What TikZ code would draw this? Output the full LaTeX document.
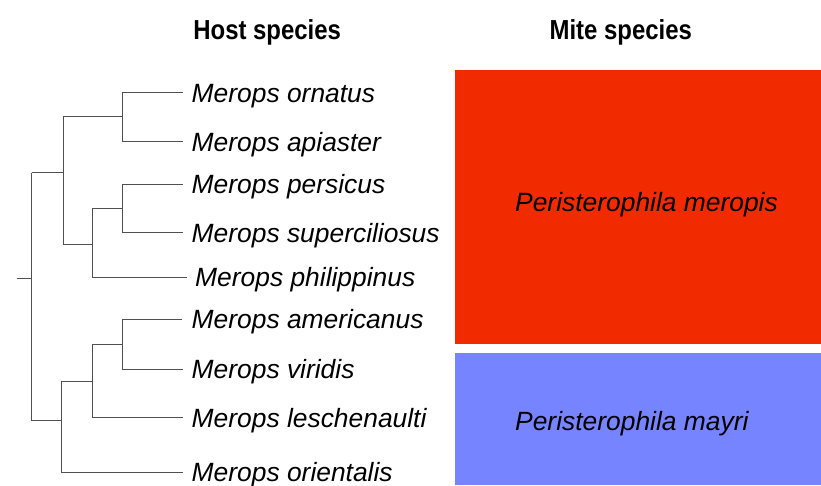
\documentclass[tikz,border=0pt]{standalone}
\usepackage{fontspec}
\setmainfont{Liberation Sans}
\newfontfamily\headfont[FakeStretch=0.87]{Liberation Sans}
\usepackage{xcolor}
\usetikzlibrary{positioning, calc}

\definecolor{miteRed}{RGB}{242,42,0}
\definecolor{miteBlue}{RGB}{118,132,255}
\definecolor{branchGray}{RGB}{80,80,80}

\begin{document}
\begin{tikzpicture}[
            x=1pt, y=-1pt,
            % ---- styles ----
            branch/.style = {draw=branchGray, line width=0.9pt},
            host/.style = {anchor=base west, inner sep=0pt, font=\fontsize{26.4}{30}\selectfont\itshape},
            head/.style = {anchor=base, inner sep=0pt, font=\headfont\fontsize{27.5}{32}\selectfont\bfseries},
            mitebox/.style = {rectangle, anchor=north west, inner sep=0pt, minimum width=366pt},
            mite/.style = {anchor=base west, inner sep=0pt, font=\fontsize{26.4}{30}\selectfont\itshape}
        ]

        \useasboundingbox (0,0) rectangle (821,485);

        % ===================== headers =====================
        \node[head] (hostT) at (267.2,39.3) {Host species};
        \node[head] (miteT) at (620.8,39.3) {Mite species};

        % ===================== mite boxes =====================
        \node[mitebox, fill=miteRed, minimum height=274.7pt] (meropis) at (455,69.3) {};
        \node[mite] (meropisL) at (515,211.7) {Peristerophila meropis};

        \node[mitebox, fill=miteBlue, minimum height=132.3pt] (mayri) at (455,352.7) {};
        \node[mite] (mayriL) at (515,430) {Peristerophila mayri};

        % ===================== tree: tips =====================
        \coordinate (orn) at (183,92.7);
        \coordinate (api) at (183,141.7);
        \coordinate (per) at (183,184);
        \coordinate (sup) at (183,232.7);
        \coordinate (phi) at (187,277);
        \coordinate (ame) at (182,319);
        \coordinate (vir) at (183,369);
        \coordinate (les) at (183,417.7);
        \coordinate (ori) at (183,472.3);

        \node[host] (ornL) at ($(orn)+(8.5,9.5)$) {Merops ornatus};
        \node[host] (apiL) at ($(api)+(8.5,9.5)$) {Merops apiaster};
        \node[host] (perL) at ($(per)+(8.5,9.5)$) {Merops persicus};
        \node[host] (supL) at ($(sup)+(8.5,9.5)$) {Merops superciliosus};
        \node[host] (phiL) at ($(phi)+(8,9.5)$) {Merops philippinus};
        \node[host] (ameL) at ($(ame)+(9.5,9.5)$) {Merops americanus};
        \node[host] (virL) at ($(vir)+(8.5,9.5)$) {Merops viridis};
        \node[host] (lesL) at ($(les)+(8.5,9.5)$) {Merops leschenaulti};
        \node[host] (oriL) at ($(ori)+(8.5,9.5)$) {Merops orientalis};

        % ===================== tree: inner nodes =====================
        \coordinate (c1) at (122.7,116.7);   % ornatus + apiaster
        \coordinate (c2) at (122.7,208.3);   % persicus + superciliosus
        \coordinate (c3) at (92.3,244);      % c2 + philippinus
        \coordinate (c4) at (63.3,172.7);    % c1 + c3
        \coordinate (c5) at (122.7,344);     % americanus + viridis
        \coordinate (c6) at (92.3,381.7);    % c5 + leschenaulti
        \coordinate (c7) at (61.7,420.7);    % c6 + orientalis
        \coordinate (root) at (31.7,278.3);
        \coordinate (stub) at (16.7,278.3);

        % ---- branches ----
        \draw[branch] (c1) |- (orn);  \draw[branch] (c1) |- (api);
        \draw[branch] (c2) |- (per);  \draw[branch] (c2) |- (sup);
        \draw[branch] (c3) |- (c2);   \draw[branch] (c3) |- (phi);
        \draw[branch] (c4) |- (c1);   \draw[branch] (c4) |- (c3);
        \draw[branch] (c5) |- (ame);  \draw[branch] (c5) |- (vir);
        \draw[branch] (c6) |- (c5);   \draw[branch] (c6) |- (les);
        \draw[branch] (c7) |- (c6);   \draw[branch] (c7) |- (ori);
        \draw[branch] (root |- c4) -- (root |- c7);
        \draw[branch] (root |- c4) -- (c4);
        \draw[branch] (root |- c7) -- (c7);
        \draw[branch] (stub) -- (root);

        \end{tikzpicture}
\end{document}
